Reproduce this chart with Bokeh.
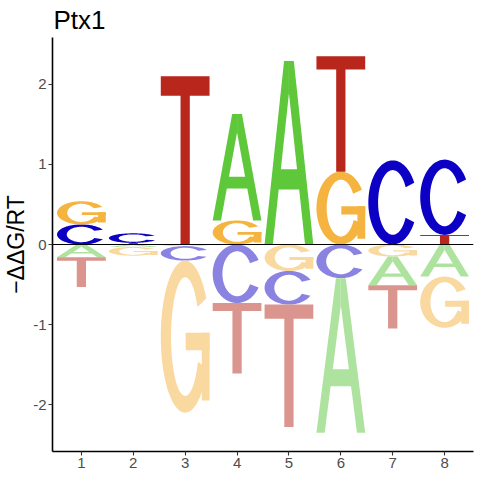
import numpy as np
from bokeh.plotting import figure
from bokeh.models import ColumnDataSource, Span, FixedTicker, Range1d
from bokeh.embed import file_html
from bokeh.resources import INLINE

# ---- data ----
positions = [1, 2, 3, 4, 5, 6, 7, 8]
val_A = [-0.16, -0.03, -0.02, 1.33, 2.29, -1.93, -0.36, -0.40]
val_C = [0.25, 0.12, -0.18, -0.73, -0.42, -0.42, 1.05, 0.94]
val_G = [0.29, -0.11, -1.90, 0.30, -0.33, 0.91, -0.15, -0.64]
val_T = [-0.37, 0.02, 2.10, -0.88, -1.53, 1.44, -0.54, 0.12]
bases = ["A", "C", "G", "T"]
x_ticks = [1, 2, 3, 4, 5, 6, 7, 8]
y_ticks = [-2, -1, 0, 1, 2]
y_tick_labels = ["-2", "-1", "0", "1", "2"]
title_text = "Ptx1"
y_label = "\u2212\u0394\u0394G/RT"

pos_colors = {"A": "#5EC83A", "C": "#0B00C4", "G": "#F5B43F", "T": "#B9261C"}
neg_colors = {"A": "#AEE39F", "C": "#8A83E1", "G": "#F9D99F", "T": "#DB958F"}

LETTER_W = 0.94


# ---- letter outlines in a unit box ----
def arc_piece(t1, t2, rxo, ryo, rxi, ryi, n=80):
    th = np.radians(np.linspace(t1, t2, n))
    ox = 0.5 + rxo * np.cos(th)
    oy = 0.5 + ryo * np.sin(th)
    ix = 0.5 + rxi * np.cos(th[::-1])
    iy = 0.5 + ryi * np.sin(th[::-1])
    return list(np.concatenate([ox, ix])), list(np.concatenate([oy, iy]))


def rect_piece(x0, x1, y0, y1):
    return [x0, x1, x1, x0], [y0, y0, y1, y1]


def letter_pieces(b):
    if b == "A":
        return [
            ([0.0, 0.17, 0.5, 0.5, 0.4], [0.0, 0.0, 0.825, 1.0, 1.0]),
            ([1.0, 0.83, 0.5, 0.5, 0.6], [0.0, 0.0, 0.825, 1.0, 1.0]),
            ([0.25, 0.75, 0.71, 0.29], [0.30, 0.30, 0.41, 0.41]),
        ]
    if b == "C":
        return [arc_piece(28, 332, 0.5, 0.5, 0.30, 0.385)]
    if b == "G":
        return [
            arc_piece(30, 335, 0.5, 0.5, 0.29, 0.39),
            rect_piece(0.51, 1.0, 0.41, 0.525),
            rect_piece(0.84, 1.0, 0.08, 0.525),
        ]
    if b == "T":
        return [([0.405, 0.595, 0.595, 1.0, 1.0, 0.0, 0.0, 0.405],
                 [0.0, 0.0, 0.885, 0.885, 1.0, 1.0, 0.885, 0.885])]


values = {"A": val_A, "C": val_C, "G": val_G, "T": val_T}

xs, ys, cols = [], [], []


def add_letter(b, xc, y0, h, color):
    for ux, uy in letter_pieces(b):
        xs.append([xc - LETTER_W / 2 + LETTER_W * u for u in ux])
        ys.append([y0 + h * v for v in uy])
        cols.append(color)


for i, xc in enumerate(positions):
    pos_items = sorted([(values[b][i], b) for b in bases if values[b][i] > 0], key=lambda t: abs(t[0]))
    neg_items = sorted([(values[b][i], b) for b in bases if values[b][i] < 0], key=lambda t: abs(t[0]))
    y = 0.0
    for v, b in pos_items:
        add_letter(b, xc, y, v, pos_colors[b])
        y += v
    y = 0.0
    for v, b in neg_items:
        add_letter(b, xc, y + v, -v, neg_colors[b])
        y += v

src = ColumnDataSource(dict(xs=xs, ys=ys, color=cols))

p = figure(width=480, height=480,
           x_range=Range1d(0.443, 8.557), y_range=Range1d(-2.585, 2.585),
           output_backend="svg", toolbar_location=None,
           min_border_left=51, min_border_right=7, min_border_top=37, min_border_bottom=29,
           title=title_text)

p.patches("xs", "ys", source=src, fill_color="color", line_color=None)

p.add_layout(Span(location=0, dimension="width", line_color="black", line_width=1))

p.title.text_font = "Liberation Sans"
p.title.text_font_size = "26px"
p.title.text_font_style = "normal"
p.title.text_color = "black"
p.title.align = "left"
p.title.standoff = 5
p.title.offset = 1

p.xgrid.grid_line_color = None
p.ygrid.grid_line_color = None
p.outline_line_color = None
p.background_fill_color = "white"

for ax in (p.xaxis[0], p.yaxis[0]):
    ax.axis_line_color = "black"
    ax.axis_line_width = 1.6
    ax.major_tick_line_color = "#333333"
    ax.major_tick_line_width = 1.1
    ax.major_tick_out = 4
    ax.major_tick_in = 0
    ax.minor_tick_line_color = None
    ax.major_label_text_font = "Liberation Sans"
    ax.major_label_text_font_size = "15px"
    ax.major_label_text_color = "#4D4D4D"
    ax.major_label_standoff = 2

p.xaxis.ticker = FixedTicker(ticks=x_ticks)
p.yaxis.ticker = FixedTicker(ticks=y_ticks)
p.yaxis.major_label_overrides = {t: l for t, l in zip(y_ticks, y_tick_labels)}

p.yaxis.axis_label = y_label
p.yaxis.axis_label_text_font = "Liberation Sans"
p.yaxis.axis_label_text_font_size = "23px"
p.yaxis.axis_label_text_font_style = "normal"
p.yaxis.axis_label_text_color = "black"
p.yaxis.axis_label_standoff = 1

open("out.html", "w").write(file_html(p, INLINE))
